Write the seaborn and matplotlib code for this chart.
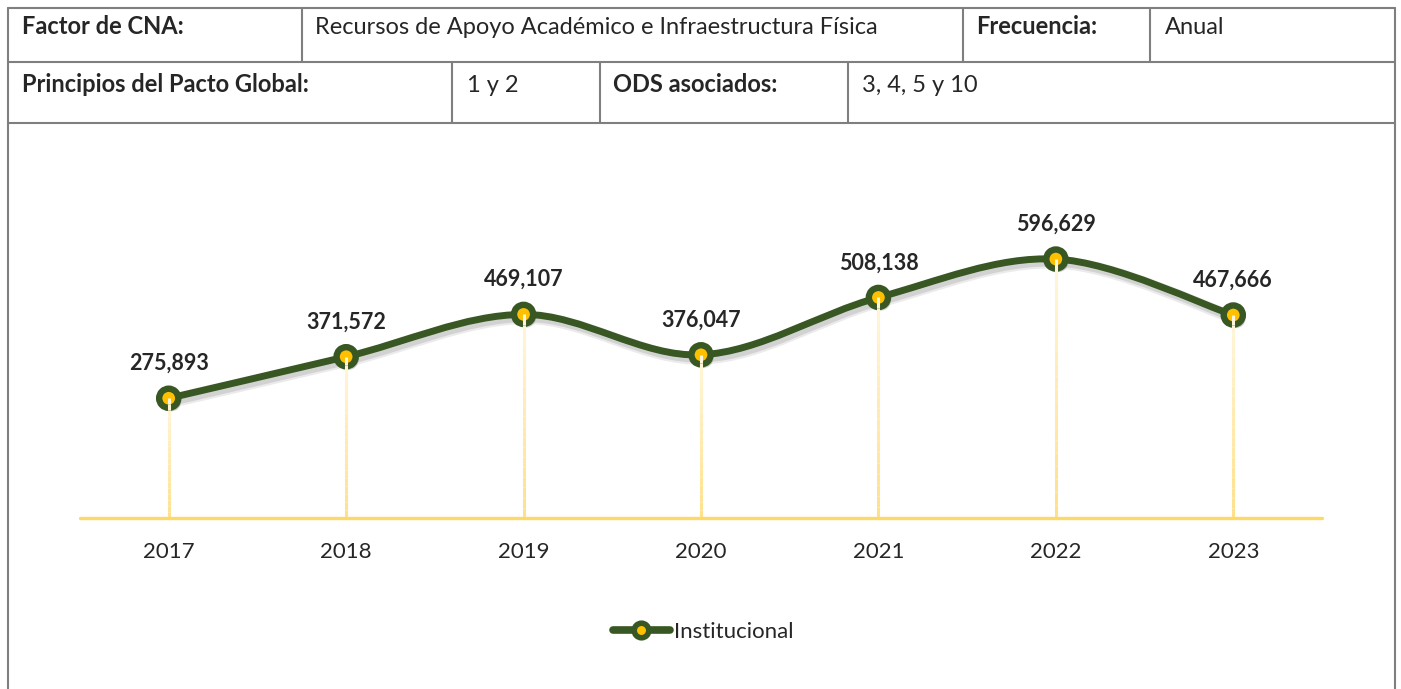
import numpy as np
import pandas as pd
import matplotlib
matplotlib.use("Agg")
import matplotlib.pyplot as plt
import matplotlib.patheffects as pe
from matplotlib.path import Path
from matplotlib.patches import PathPatch
from matplotlib.lines import Line2D
import seaborn as sns

# data
years = ['2017', '2018', '2019', '2020', '2021', '2022', '2023']
institucional = [275893, 371572, 469107, 376047, 508138, 596629, 467666]
serie = 'Institucional'

# header table text: (text, bold, left x px)
fila1 = [('Factor de CNA:', True, 22),
         ('Recursos de Apoyo Académico e Infraestructura Física', False, 315),
         ('Frecuencia:', True, 976),
         ('Anual', False, 1165)]
fila2 = [('Principios del Pacto Global:', True, 22),
         ('1 y 2', False, 467),
         ('ODS asociados:', True, 613),
         ('3, 4, 5 y 10', False, 862)]

sns.set_style('white')
plt.rcParams['font.family'] = ['Lato', 'DejaVu Sans']

W, H = 1401, 689
GREEN = '#385723'
YELLOW = '#FFC000'
GRID = '#7F7F7F'


def fx(px):
    return px / W


def fy(py):
    return 1 - py / H


fig = plt.figure(figsize=(W / 100, H / 100), dpi=100, facecolor='white')

# table borders
for y0 in [8, 62, 123]:
    fig.add_artist(Line2D([fx(8), fx(1395)], [fy(y0), fy(y0)], color=GRID, lw=1.5))
for x0 in [8, 1395]:
    fig.add_artist(Line2D([fx(x0), fx(x0)], [fy(8), fy(689)], color=GRID, lw=1.5))
for x0 in [302, 963, 1150]:
    fig.add_artist(Line2D([fx(x0), fx(x0)], [fy(8), fy(62)], color=GRID, lw=1.5))
for x0 in [452, 600, 848]:
    fig.add_artist(Line2D([fx(x0), fx(x0)], [fy(62), fy(123)], color=GRID, lw=1.5))

for txt, bold, x0 in fila1:
    fig.text(fx(x0), fy(34), txt, fontsize=17, va='baseline', ha='left',
             fontweight='bold' if bold else 'normal')
for txt, bold, x0 in fila2:
    fig.text(fx(x0), fy(92), txt, fontsize=17, va='baseline', ha='left',
             fontweight='bold' if bold else 'normal')

# chart
df = pd.DataFrame({'year': years, 'valor': institucional})
ax = fig.add_axes([fx(80), fy(518), 1242 / W, 303.8 / H])

# smooth line (bezier through the points, like excel's smoothed line)
x = np.arange(len(years), dtype=float)
y = np.array(institucional, dtype=float)
px = np.r_[x[0], x, x[-1]]
py = np.r_[y[0], y, y[-1]]
verts = [(x[0], y[0])]
codes = [Path.MOVETO]
for i in range(len(x) - 1):
    c1 = (px[i + 1] + (px[i + 2] - px[i]) / 6, py[i + 1] + (py[i + 2] - py[i]) / 6)
    c2 = (px[i + 2] - (px[i + 3] - px[i + 1]) / 6, py[i + 2] - (py[i + 3] - py[i + 1]) / 6)
    verts += [c1, c2, (x[i + 1], y[i + 1])]
    codes += [Path.CURVE4] * 3
shadow = [pe.SimpleLineShadow(offset=(2, -2.5), shadow_color='#444444', alpha=0.10, linewidth=9),
          pe.SimpleLineShadow(offset=(2, -2.5), shadow_color='#444444', alpha=0.15, linewidth=6),
          pe.Normal()]
curve = PathPatch(Path(verts, codes), fill=False, edgecolor=GREEN, lw=5,
                  capstyle='round', joinstyle='round', zorder=3, clip_on=False,
                  path_effects=shadow)
ax.add_patch(curve)

sns.scatterplot(data=df, x='year', y='valor', s=190, color=YELLOW,
                edgecolor=GREEN, linewidth=4.6, zorder=4, ax=ax, legend=False,
                clip_on=False)
ax.collections[-1].set_path_effects(
    [pe.SimplePatchShadow(offset=(2, -2.5), shadow_rgbFace='#444444', alpha=0.25), pe.Normal()])

# drop lines with a light yellow gradient
steps = 20
top_c = np.array(matplotlib.colors.to_rgb('#FFF6DC'))
bot_c = np.array(matplotlib.colors.to_rgb('#FFE08A'))
for k in range(steps):
    f0, f1 = k / steps, (k + 1) / steps
    col = bot_c + (top_c - bot_c) * (k + 0.5) / steps
    ax.vlines(x, y * f0, y * f1, colors=[col], lw=2.2, zorder=5)

ax.axhline(0, color='#FFD966', lw=2.4, zorder=6, clip_on=False)

for i, v in enumerate(institucional):
    ax.annotate(f'{v:,}', (i, v), xytext=(0, 25), textcoords='offset points',
                ha='center', va='center', fontsize=15.5, fontweight='bold')

ax.set_xlim(-0.5, len(years) - 0.5)
ax.set_ylim(0, 700000)
ax.set_yticks([])
ax.set_xlabel('')
ax.set_ylabel('')
ax.tick_params(axis='x', length=0, pad=17, labelsize=16)
for s in ax.spines.values():
    s.set_visible(False)
ax.patch.set_alpha(0)

handle = Line2D([], [], color=GREEN, lw=5.5, marker='o', markersize=10.5,
                markerfacecolor=YELLOW, markeredgecolor=GREEN, markeredgewidth=4,
                solid_capstyle='round')
fig.legend([handle], [serie], loc='center', bbox_to_anchor=(fx(703), fy(632)),
           frameon=False, fontsize=16, handlelength=2.55, handletextpad=0.18)

plt.savefig('out.png', dpi=100, facecolor='white')
plt.close()
